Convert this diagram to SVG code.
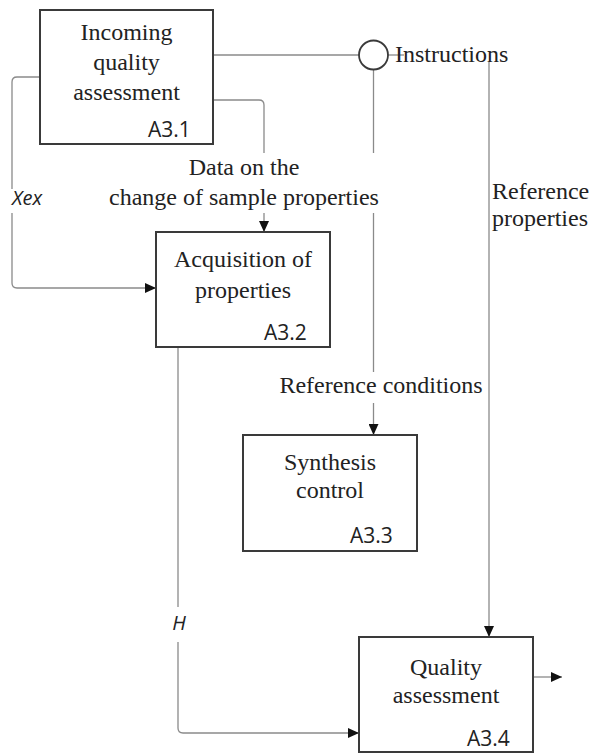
<svg xmlns="http://www.w3.org/2000/svg" width="592" height="754" viewBox="0 0 592 754">
<style>
.box{fill:#fff;stroke:#3a3a3a;stroke-width:2}
.ln{fill:none;stroke:#8a8a8a;stroke-width:1.3}
.t{font-family:'Liberation Serif','DejaVu Serif','Times New Roman',serif;font-size:24px;fill:#222;text-anchor:middle}
.tl{font-family:'Liberation Serif','DejaVu Serif','Times New Roman',serif;font-size:24px;fill:#222}
.id{font-family:'Open Sans','Liberation Sans',sans-serif;font-size:21px;fill:#222}
.it{font-family:'Open Sans','Liberation Sans',sans-serif;font-style:italic;font-size:20px;fill:#222}
</style>
<defs>
<marker id="ar" markerUnits="userSpaceOnUse" markerWidth="11" markerHeight="10" refX="11" refY="5" orient="auto">
<path d="M0,0 L11,5 L0,10 z" fill="#111"/>
</marker>
</defs>
<rect width="592" height="754" fill="#fff"/>
<g id="connectors">
<path class="ln" d="M213 55 H359"/>
<path class="ln" d="M388 55 H404"/>
<path class="ln" d="M373.5 69.5 V153"/>
<path class="ln" d="M373.5 213 V372"/>
<path class="ln" d="M373.5 403 V435" marker-end="url(#ar)"/>
<path class="ln" d="M489 62 V637" marker-end="url(#ar)"/>
<path class="ln" d="M40 77 H17 Q12 77 12 82 V189"/>
<path class="ln" d="M12 213 V283 Q12 288 17 288 H156" marker-end="url(#ar)"/>
<path class="ln" d="M213 100 H259 Q264 100 264 105 V153"/>
<path class="ln" d="M264 213 V232" marker-end="url(#ar)"/>
<path class="ln" d="M178 347 V607"/>
<path class="ln" d="M178 642 V728 Q178 733 183 733 H359" marker-end="url(#ar)"/>
<path class="ln" d="M533 677 H562" marker-end="url(#ar)"/>
<circle cx="373.5" cy="55" r="14.5" fill="none" stroke="#3a3a3a" stroke-width="1.8"/>
<text class="tl" font-family="Liberation Serif, serif" x="395" y="62">Instructions</text>
<text class="tl" font-family="Liberation Serif, serif" x="492" y="199">Reference</text>
<text class="tl" font-family="Liberation Serif, serif" x="492" y="226">properties</text>
<text class="t" font-family="Liberation Serif, serif" x="244" y="175">Data on the</text>
<text class="t" font-family="Liberation Serif, serif" x="244" y="205">change of sample properties</text>
<text class="t" font-family="Liberation Serif, serif" x="381" y="393">Reference conditions</text>
<text class="it" x="12" y="205">Xex</text>
<text class="it" x="179" y="630" text-anchor="middle">H</text>
</g>
<g id="A3.1">
<rect class="box" x="40" y="10" width="173" height="134"/>
<text class="t" x="126.5" y="40">Incoming</text>
<text class="t" x="126.5" y="70">quality</text>
<text class="t" x="126.5" y="100">assessment</text>
<text class="id" x="148" y="137">A3.1</text>
</g>
<g id="A3.2">
<rect class="box" x="156" y="232" width="174" height="115"/>
<text class="t" x="243" y="267">Acquisition of</text>
<text class="t" x="243" y="298">properties</text>
<text class="id" x="264" y="340">A3.2</text>
</g>
<g id="A3.3">
<rect class="box" x="243" y="435" width="174" height="116"/>
<text class="t" x="330" y="470">Synthesis</text>
<text class="t" x="330" y="498">control</text>
<text class="id" x="350" y="543">A3.3</text>
</g>
<g id="A3.4">
<rect class="box" x="359" y="637" width="174" height="115"/>
<text class="t" x="446" y="675">Quality</text>
<text class="t" x="446" y="703">assessment</text>
<text class="id" x="467" y="746">A3.4</text>
</g>
</svg>
